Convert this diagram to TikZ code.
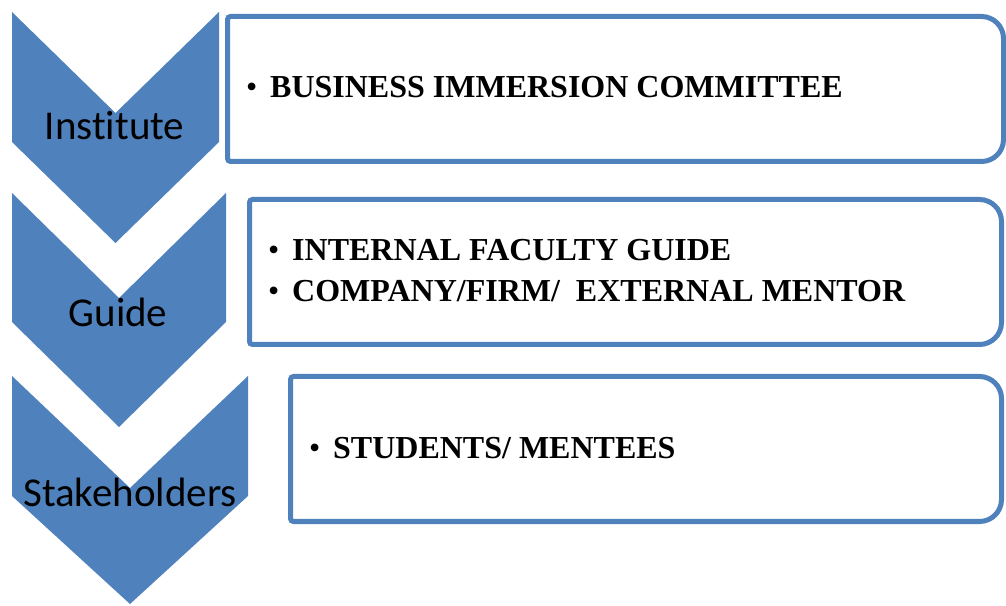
\documentclass[tikz,border=0pt]{standalone}
\usepackage{fontspec}
\setmainfont{Liberation Serif}
\newfontfamily\labelfont[Ligatures={NoCommon}]{Carlito}
\definecolor{officeblue}{HTML}{4F81BD}
\begin{document}
\begin{tikzpicture}[x=1pt,y=1pt,
  chev/.style={fill=officeblue,draw=none},
  listbox/.style={draw=officeblue,line width=5pt,fill=white},
  chevlabel/.style={anchor=base,inner sep=0pt,font=\labelfont\fontsize{41}{41}\selectfont},
  item/.style={anchor=base west,inner sep=0pt,font=\bfseries\fontsize{32}{32}\selectfont}]
\useasboundingbox (0,0) rectangle (1006,605);

% chevron: left x, centre x, right x, top, notch, side bottom, tip
\newcommand\chevronshape[7]{%
  \fill[chev] (#1,#4) -- (#2,#5) -- (#3,#4) -- (#3,#6) -- (#2,#7) -- (#1,#6) -- cycle;}
% box with small left corners and large right corners: x1, x2, top, bottom
\newcommand\sidebox[4]{%
  \draw[listbox] (#1,{#4+3}) -- (#1,{#3-3}) arc[start angle=180,end angle=90,radius=3]
    -- ({#2-22},#3) arc[start angle=90,end angle=0,radius=22]
    -- (#2,{#4+22}) arc[start angle=0,end angle=-90,radius=22]
    -- ({#1+3},#4) arc[start angle=270,end angle=180,radius=3] -- cycle;}

\chevronshape{12}{115.5}{219}{593}{492}{463}{362}
\chevronshape{12}{119}{226}{412}{307}{283}{178}
\chevronshape{12}{130}{248}{229}{117}{109}{1}

\node[chevlabel] (inst) at (114.5,465) {Institute};
\node[chevlabel] (guide) at (118,278) {Guide};
\node[chevlabel] (stake) at (130,99) {Stakeholders};

\sidebox{227.5}{1003.5}{588.5}{443.5}
\sidebox{249.5}{1001.5}{405.5}{260.5}
\sidebox{290.5}{1001.5}{228.5}{83.5}

\node[item] (bic) at (246,507) {\makebox[24pt][l]{\mdseries •}BUSINESS IMMERSION COMMITTEE};
\node[item] (ifg) at (268,344) {\makebox[24pt][l]{\mdseries •}INTERNAL FACULTY GUIDE};
\node[item] (cfm) at (268,303) {\makebox[24pt][l]{\mdseries •}COMPANY/FIRM/\ \ EXTERNAL MENTOR};
\node[item] (stu) at (309,146) {\makebox[24pt][l]{\mdseries •}STUDENTS/ MENTEES};
\end{tikzpicture}
\end{document}
